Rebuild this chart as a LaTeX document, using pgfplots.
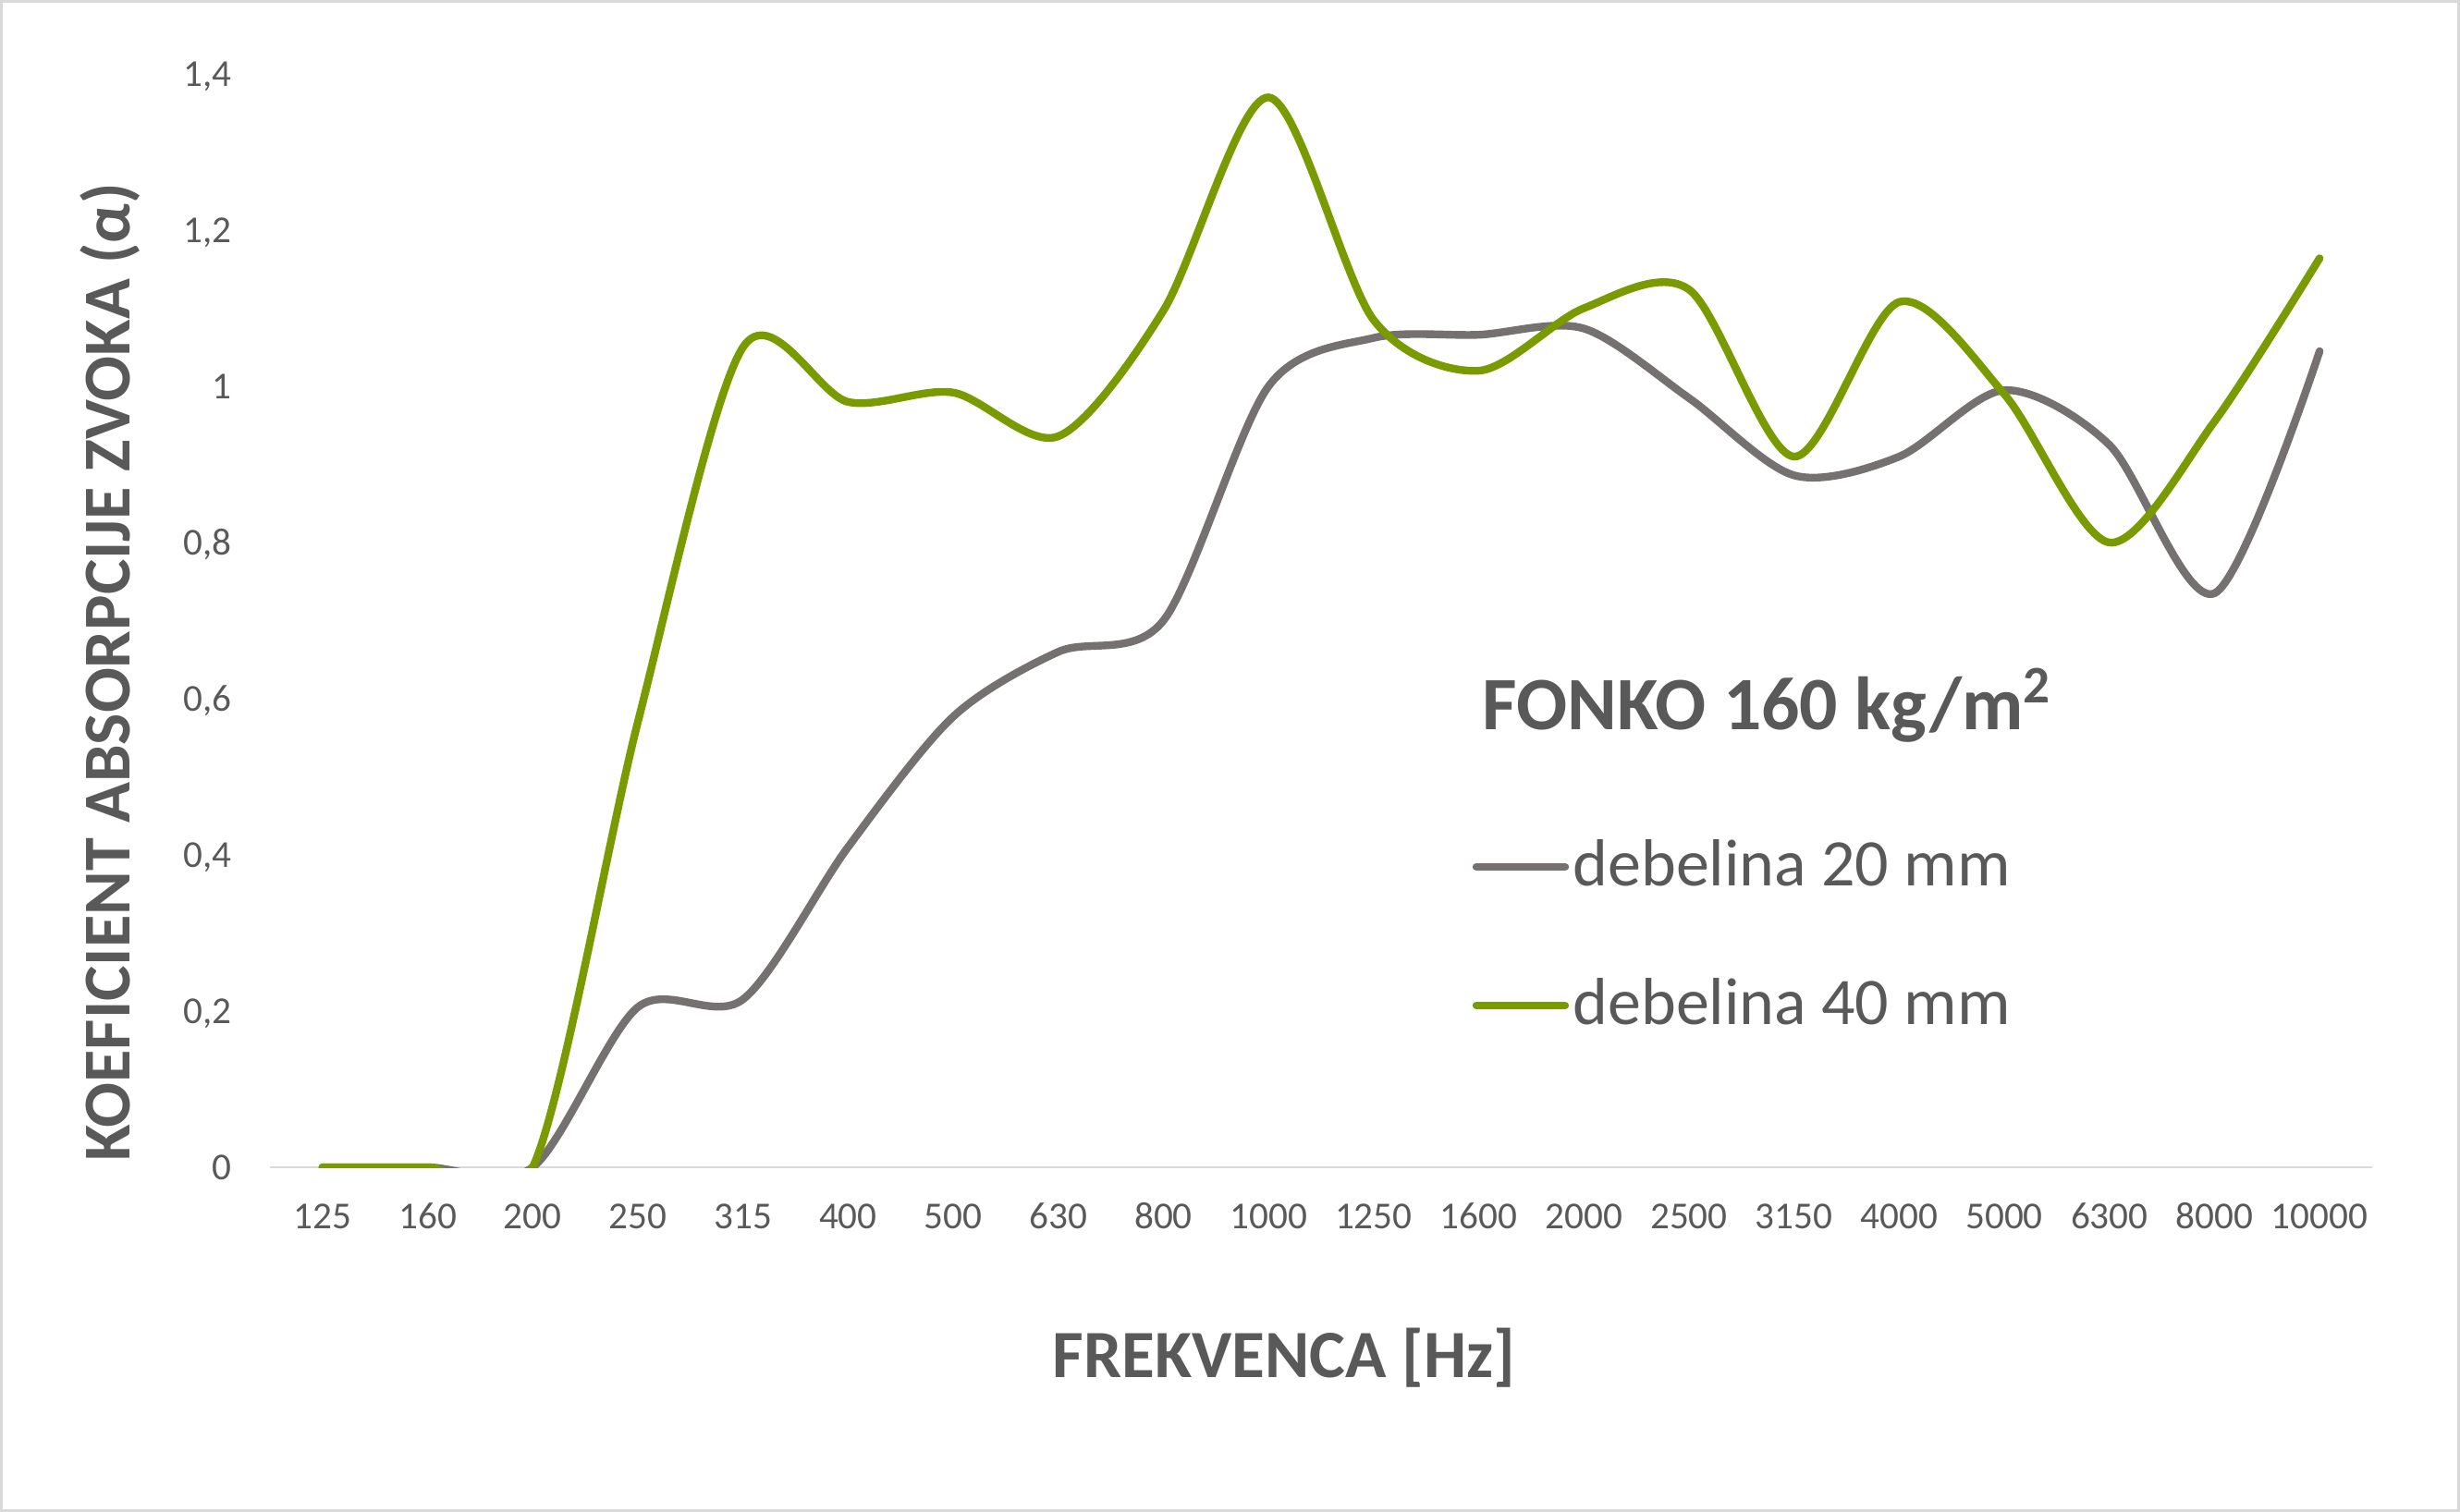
\documentclass[border=0pt]{standalone}
\usepackage{fontspec}
\setmainfont{Carlito}
\usepackage{pgfplots}
\pgfplotsset{compat=1.18}

\definecolor{txtgray}{HTML}{595959}
\definecolor{axgray}{HTML}{D9D9D9}
\definecolor{line20}{HTML}{767171}
\definecolor{line40}{HTML}{7A9A01}

\begin{document}
\begin{tikzpicture}
\useasboundingbox (-73bp,-93.25bp) rectangle (592.25bp,315.75bp);
\draw[axgray, line width=0.75bp] (-72.6bp,-92.85bp) rectangle (591.85bp,315.35bp);
\begin{axis}[
    scale only axis,
    width=568.5bp, height=295.75bp,
    xmin=-0.5, xmax=19.5,
    ymin=0, ymax=1.4,
    axis x line*=bottom,
    axis y line*=left,
    x axis line style={draw=axgray, line width=0.7bp, -},
    y axis line style={draw=none},
    major tick length=0pt,
    tick style={draw=none},
    xtick={0,...,19},
    xticklabels={125,160,200,250,315,400,500,630,800,1000,1250,1600,2000,2500,3150,4000,5000,6300,8000,10000},
    xticklabel style={font=\fontsize{10.3bp}{12bp}\selectfont, text=txtgray, anchor=base, inner sep=0pt, yshift=-16.5bp},
    ytick={0,0.2,0.4,0.6,0.8,1,1.2,1.4},
    yticklabels={0,{0,2},{0,4},{0,6},{0,8},1,{1,2},{1,4}},
    yticklabel style={font=\fontsize{10.3bp}{12bp}\selectfont, text=txtgray, anchor=base east, inner sep=0pt, xshift=-10.25bp, yshift=-3.3bp},
    xlabel={FREKVENCA [Hz]},
    xlabel style={font=\bfseries\fontsize{18.3bp}{22bp}\selectfont, text=txtgray, at={(axis description cs:0.4824,-0.1927)}, anchor=base, inner sep=0pt},
    ylabel={KOEFICIENT ABSORPCIJE ZVOKA (α)},
    ylabel style={font=\bfseries\fontsize{18.1bp}{22bp}\selectfont, text=txtgray, at={(axis description cs:-0.06684,0.4528)}, anchor=base, inner sep=0pt},
]
% debelina 20 mm
\addplot[line20, line width=2.1bp, smooth, tension=0.5, line cap=round] coordinates {
(0,0) (1,0) (2,0) (3,0.205) (4,0.215) (5,0.41) (6,0.577) (7,0.66) (8,0.70) (9,1.0)
(10,1.062) (11,1.066) (12,1.074) (13,0.985) (14,0.886) (15,0.91) (16,0.995) (17,0.925) (18,0.735) (19,1.045)
};
% debelina 40 mm
\addplot[line40, line width=2.1bp, smooth, tension=0.5, line cap=round] coordinates {
(0,0) (1,0) (2,0) (3,0.57) (4,1.05) (5,0.98) (6,0.992) (7,0.936) (8,1.097) (9,1.37)
(10,1.085) (11,1.02) (12,1.10) (13,1.124) (14,0.91) (15,1.108) (16,0.99) (17,0.80) (18,0.955) (19,1.164)
};
\end{axis}
% title and legend
\node[anchor=base west, inner sep=0pt, text=txtgray, font=\bfseries\fontsize{20.4bp}{24bp}\selectfont] at (327.75bp,118.25bp) {FONKO 160 kg/m\textsuperscript{2}};
\draw[line20, line width=2.1bp, line cap=round] (326.25bp,81.25bp) -- (350.25bp,81.25bp);
\node[anchor=base west, inner sep=0pt, text=txtgray, font=\fontsize{18bp}{21bp}\selectfont] at (352.2bp,76bp) {debelina 20 mm};
\draw[line40, line width=2.1bp, line cap=round] (326.25bp,43.8bp) -- (350.25bp,43.8bp);
\node[anchor=base west, inner sep=0pt, text=txtgray, font=\fontsize{18bp}{21bp}\selectfont] at (352.2bp,38.6bp) {debelina 40 mm};
\end{tikzpicture}
\end{document}
